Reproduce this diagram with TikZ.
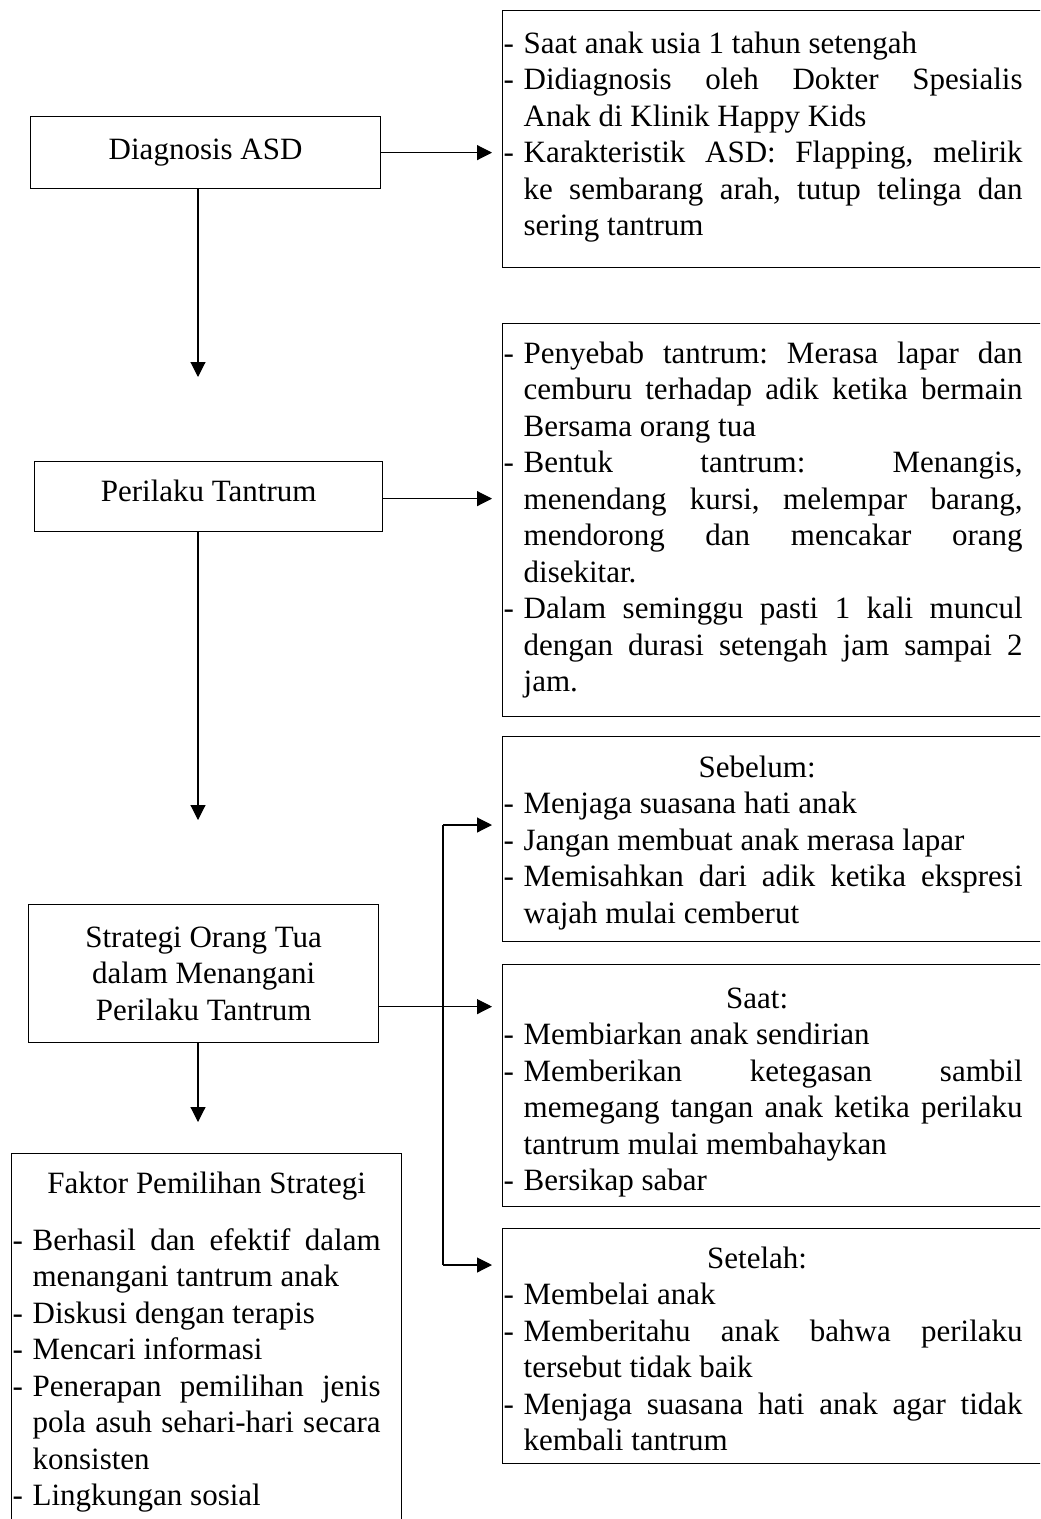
\documentclass[tikz,border=0pt]{standalone}
\usepackage{fontspec}
\setmainfont{Liberation Serif}
\usetikzlibrary{arrows.meta}

\newcommand{\isian}[1]{\leftskip=0pt\rightskip=#1\relax\parindent=0pt\parfillskip=0pt plus 1fil\relax
  \frenchspacing\spaceskip=0.25em plus 0.6em minus 0.1em\relax
  \hyphenpenalty=10000\exhyphenpenalty=10000\tolerance=10000}
\newcommand{\butirawal}{\noindent\hangindent=8pt\hangafter=1\makebox[8pt][l]{-}\ignorespaces}
\newcommand{\butir}{\par\butirawal}
\newcommand{\judul}[1]{\hspace*{\fill}#1\hspace*{\fill}\hspace*{4.8pt}\par}

\begin{document}
\begin{tikzpicture}[x=0.4pt, y=-0.4pt,
    kotak/.style={draw, line width=0.5pt, rectangle, anchor=north west, inner sep=0pt,
      font=\fontsize{12.4pt}{14.6pt}\selectfont},
    kiri/.style={kotak, align=center},
    kanan/.style={kotak, text width=215.2pt, inner xsep=0.4pt, inner ysep=0pt},
    panah/.style={-{Triangle[length=6pt,width=6pt]}, line width=0.45pt},
    garis/.style={line width=0.45pt}]
    \useasboundingbox (0,0) rectangle (1040,1519);
    \clip (0,0) rectangle (1040,1519);

    \coordinate (sumbu) at (198,0);
    \coordinate (cabangAtas) at (443,825);
    \coordinate (cabangBawah) at (443,1265);

    \node[kiri, minimum width=140pt, minimum height=28.8pt] (diagnosis) at (30,116) {Diagnosis ASD};
    \node[kiri, minimum width=139.2pt, minimum height=28pt, text height=8.5pt, text depth=4.8pt] (perilaku) at (34,461) {Perilaku Tantrum};
    \node[kiri, minimum width=140pt, minimum height=55.2pt] (strategi) at (28,904)
      {Strategi Orang Tua\\dalam Menangani\\Perilaku Tantrum};

    \node[kanan, text height=17pt, text depth=85.8pt] (ketDiagnosis) at (502,10) {\isian{7.6pt}%
      \butirawal Saat anak usia 1 tahun setengah
      \butir Didiagnosis oleh Dokter Spesialis\linebreak Anak di Klinik Happy Kids
      \butir Karakteristik ASD: Flapping, melirik\linebreak ke sembarang arah, tutup telinga dan\linebreak sering tantrum\par};

    \node[kanan, text height=15.8pt, text depth=141.4pt] (ketPerilaku) at (502,323) {\isian{7.6pt}%
      \butirawal Penyebab tantrum: Merasa lapar dan\linebreak cemburu terhadap adik ketika bermain\linebreak Bersama orang tua
      \butir Bentuk tantrum: Menangis,\linebreak menendang kursi, melempar barang,\linebreak mendorong dan mencakar orang\linebreak disekitar.
      \butir Dalam seminggu pasti 1 kali muncul\linebreak dengan durasi setengah jam sampai 2\linebreak jam.\par};

    \node[kanan, text height=16.2pt, text depth=65.8pt] (sebelum) at (502,736) {\isian{7.6pt}%
      \judul{Sebelum:}
      \butirawal Menjaga suasana hati anak
      \butir Jangan membuat anak merasa lapar
      \butir Memisahkan dari adik ketika ekspresi\linebreak wajah mulai cemberut\par};

    \node[kanan, text height=17.4pt, text depth=79.4pt] (saat) at (502,964) {\isian{7.6pt}%
      \judul{Saat:}
      \butirawal Membiarkan anak sendirian
      \butir Memberikan ketegasan sambil\linebreak memegang tangan anak ketika perilaku\linebreak tantrum mulai membahaykan
      \butir Bersikap sabar\par};

    \node[kanan, text height=15.8pt, text depth=78.2pt] (setelah) at (502,1228) {\isian{7.6pt}%
      \judul{Setelah:}
      \butirawal Membelai anak
      \butir Memberitahu anak bahwa perilaku\linebreak tersebut tidak baik
      \butir Menjaga suasana hati anak agar tidak\linebreak kembali tantrum\par};

    \node[kanan, text width=155.2pt, text height=15.8pt, text depth=147pt] (faktor) at (11,1153) {\isian{8pt}%
      {\centering Faktor Pemilihan Strategi\par}\vspace{8.2pt}
      \butirawal Berhasil dan efektif dalam\linebreak menangani tantrum anak
      \butir Diskusi dengan terapis
      \butir Mencari informasi
      \butir Penerapan pemilihan jenis\linebreak pola asuh sehari-hari secara\linebreak konsisten
      \butir Lingkungan sosial\par};

    % alur utama
    \draw[panah, shorten >=33.6pt] (sumbu |- diagnosis.south) -- (sumbu |- perilaku.north);
    \draw[panah, shorten >=33.6pt] (sumbu |- perilaku.south) -- (sumbu |- strategi.north);
    \draw[panah, shorten >=12.4pt] (sumbu |- strategi.south) -- (sumbu |- faktor.north);

    \draw[panah, shorten >=4pt] (diagnosis.east) -- (diagnosis.east -| ketDiagnosis.west);
    \draw[panah, shorten >=4pt] ([yshift=-0.8pt]perilaku.east) -- ([yshift=-0.8pt]perilaku.east -| ketPerilaku.west);
    \draw[panah, shorten >=4pt] ([yshift=-13.2pt]strategi.east) -- ([yshift=-13.2pt]strategi.east -| saat.west);

    % cabang sebelum / setelah
    \draw[garis] (cabangAtas) -- (cabangBawah);
    \draw[panah, shorten >=4pt] (cabangAtas) -- (cabangAtas -| sebelum.west);
    \draw[panah, shorten >=4pt] (cabangBawah) -- (cabangBawah -| setelah.west);
\end{tikzpicture}
\end{document}
